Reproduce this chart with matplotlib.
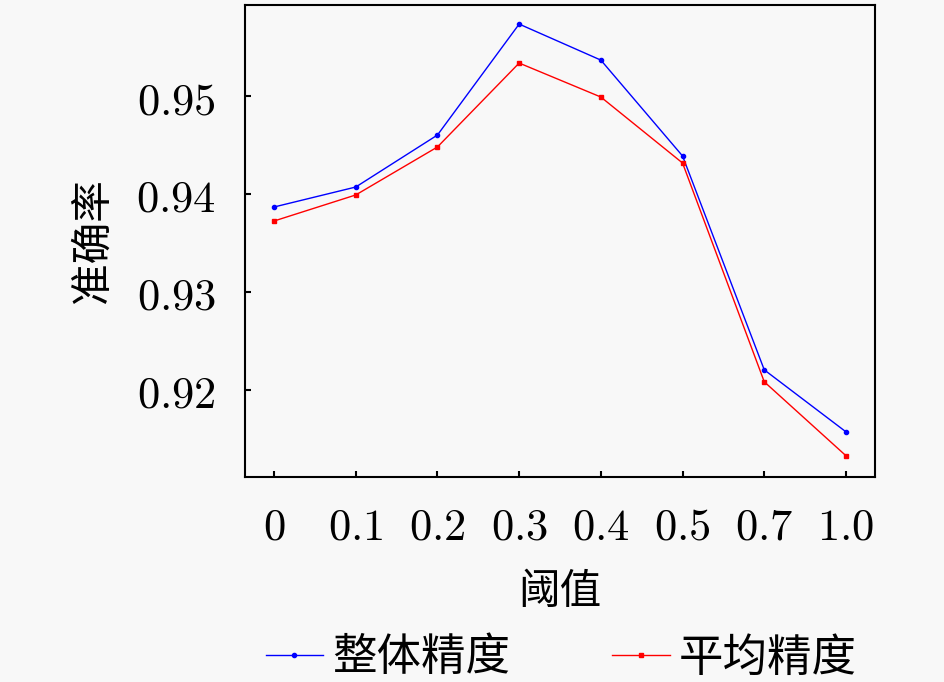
import numpy as np
import matplotlib
matplotlib.use('Agg')
import matplotlib.pyplot as plt


thresholds = ['0', '0.1', '0.2', '0.3', '0.4', '0.5', '0.7', '1.0']
overall_acc = [0.93867, 0.94071, 0.94602, 0.95735, 0.95367, 0.94388, 0.92204, 0.91571]
mean_acc = [0.93724, 0.93990, 0.94480, 0.95337, 0.94990, 0.94316, 0.92082, 0.91327]
y_ticks = [0.92, 0.93, 0.94, 0.95]
series_names = ['整体精度', '平均精度']

plt.rcParams['font.family'] = ['Noto Sans CJK SC', 'DejaVu Sans']
plt.rcParams['mathtext.fontset'] = 'cm'

bg = '#f8f8f8'
tick_fontsize = 32
label_fontsize = 30
legend_fontsize = 32

fig = plt.figure(figsize=(9.45, 6.82), dpi=100, facecolor=bg)
ax = fig.add_axes([0.2593, 0.3006, 0.6666, 0.6921], facecolor=bg)

x = np.arange(len(thresholds))
ax.plot(x, overall_acc, color='#0000ff', lw=1.0, marker='o', ms=3, label=series_names[0])
ax.plot(x, mean_acc, color='#ff0000', lw=1.0, marker='s', ms=3, label=series_names[1])

ax.set_xlim(-0.355, 7.355)
ax.set_ylim(0.9111, 0.9593)
ax.set_xticks(x)
ax.set_xticklabels([f'${t}$' for t in thresholds])
ax.set_yticks(y_ticks)
ax.set_yticklabels([f'${v:.2f}$' for v in y_ticks])
ax.tick_params(axis='both', direction='in', length=4, width=1.5,
               labelsize=tick_fontsize, top=False, right=False)
ax.tick_params(axis='x', pad=19)
ax.tick_params(axis='y', pad=21)
for sp in ax.spines.values():
    sp.set_linewidth(1.5)

ax.set_xlabel('阈值', fontsize=label_fontsize, labelpad=16)
ax.set_ylabel('准确率', fontsize=label_fontsize, labelpad=16)

fig.legend(loc='center', bbox_to_anchor=(0.594, 0.036), ncol=2, frameon=False,
           fontsize=legend_fontsize, handlelength=1.3, handletextpad=0.2,
           columnspacing=2.3)

fig.savefig('out.png', dpi=100, facecolor=bg)
